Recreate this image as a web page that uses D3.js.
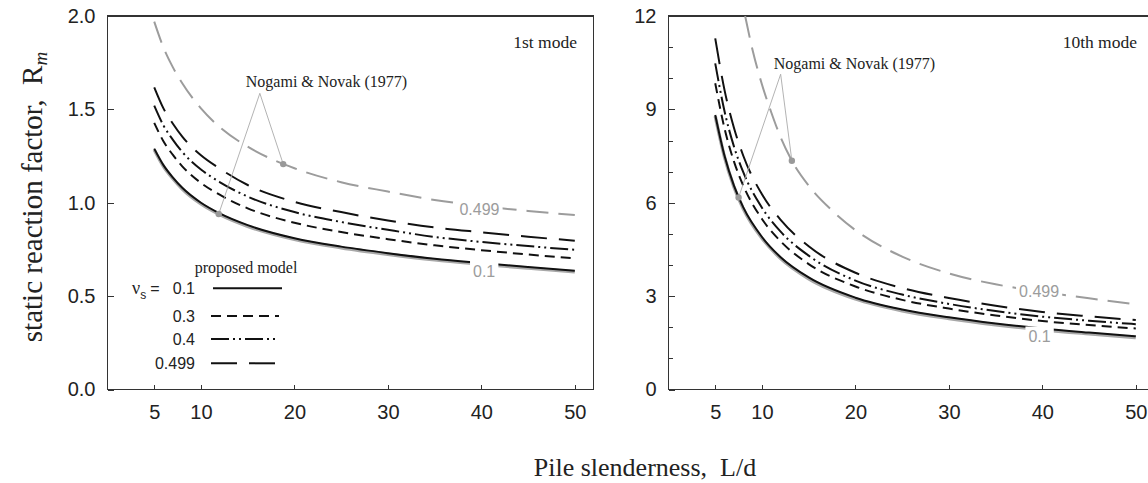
<!DOCTYPE html>
<html>
<head>
    <title>static reaction factor</title>
    <meta charset="utf-8">
    <style type="text/css">
        body { margin: 0; background: #fff; }
        .axis line { fill: none; stroke: #333; shape-rendering: crispEdges; }
        .axis path { display: none; }
        .axis text { font-family: "Liberation Sans", Arial, sans-serif; font-size: 20px; fill: #222; }
        .frame { fill: none; stroke: #333; stroke-width: 1.3; shape-rendering: crispEdges; }
        .serif { font-family: "Liberation Serif", "Times New Roman", serif; fill: #222; }
        .sans { font-family: "Liberation Sans", Arial, sans-serif; fill: #222; }
    </style>
</head>
<body>
<script src="https://cdn.jsdelivr.net/npm/d3@7"></script>
<script type="text/javascript">
    /*========= DATA =========*/
    // pile slenderness L/d
    var slenderness = [5, 6, 7, 8, 10, 12, 15, 20, 25, 30, 35, 40, 45, 50];

    // 1st mode, proposed model
    var m1Nu01   = [1.29, 1.20, 1.135, 1.08, 1.00, 0.943, 0.88, 0.81, 0.765, 0.73, 0.70, 0.677, 0.656, 0.636];
    var m1Nu03   = [1.428, 1.328, 1.256, 1.195, 1.106, 1.043, 0.970, 0.893, 0.843, 0.805, 0.772, 0.746, 0.723, 0.702];
    var m1Nu04   = [1.52, 1.413, 1.337, 1.272, 1.178, 1.111, 1.033, 0.950, 0.897, 0.855, 0.817, 0.790, 0.768, 0.748];
    var m1Nu0499 = [1.618, 1.504, 1.423, 1.354, 1.254, 1.183, 1.095, 1.005, 0.950, 0.905, 0.868, 0.842, 0.818, 0.797];
    // 1st mode, Nogami & Novak (1977)
    var m1Nogami01   = [1.284, 1.194, 1.129, 1.074, 0.994, 0.937, 0.874, 0.804, 0.759, 0.724, 0.694, 0.671, 0.650, 0.630];
    var m1Nogami0499 = [1.97, 1.83, 1.725, 1.64, 1.505, 1.405, 1.30, 1.185, 1.11, 1.06, 1.015, 0.982, 0.956, 0.934];

    // 10th mode, proposed model
    var m10Nu01   = [8.82, 7.50, 6.55, 5.85, 4.90, 4.25, 3.60, 2.95, 2.57, 2.32, 2.12, 1.96, 1.83, 1.71];
    var m10Nu03   = [9.84, 8.38, 7.33, 6.55, 5.48, 4.76, 4.03, 3.31, 2.88, 2.60, 2.38, 2.20, 2.07, 1.96];
    var m10Nu04   = [10.48, 8.93, 7.81, 6.98, 5.84, 5.07, 4.30, 3.50, 3.05, 2.75, 2.52, 2.34, 2.21, 2.10];
    var m10Nu0499 = [11.28, 9.61, 8.41, 7.51, 6.27, 5.45, 4.60, 3.75, 3.26, 2.94, 2.69, 2.49, 2.35, 2.23];
    // 10th mode, Nogami & Novak (1977)
    var m10Nogami01 = [8.78, 7.46, 6.51, 5.81, 4.86, 4.21, 3.56, 2.91, 2.53, 2.28, 2.08, 1.92, 1.79, 1.67];
    var m10Nogami0499X = [8.2, 9, 10, 11, 12, 13.2, 15, 17.5, 20, 25, 30, 35, 40, 45, 50];
    var m10Nogami0499  = [12.0, 10.9, 9.8, 8.9, 8.1, 7.35, 6.55, 5.75, 5.12, 4.27, 3.73, 3.38, 3.14, 2.93, 2.74];

    // Nogami & Novak marker points [L/d, Rm]
    var m1Markers  = [[18.8, 1.207], [11.9, 0.940]];
    var m10Markers = [[13.2, 7.35], [7.5, 6.17]];

    // ticks
    var xTicks = [5, 10, 20, 30, 40, 50];
    var m1YTicks = [0, 0.5, 1.0, 1.5, 2.0];
    var m10YTicks = [0, 3, 6, 9, 12];
    var m10YMinor = [1, 2, 4, 5, 7, 8, 10, 11];

    // legend
    var nuValues = ['0.1', '0.3', '0.4', '0.499'];

    /*========= STYLES =========*/
    var styles = {
        nu01:   { stroke: '#111', width: 2, dash: null },
        nu03:   { stroke: '#111', width: 2, dash: '10,6' },
        nu04:   { stroke: '#111', width: 2, dash: '18,4,2,4,2,4' },
        nu0499: { stroke: '#111', width: 2, dash: '26,12' },
        nog01:  { stroke: '#a8a8a8', width: 3.4, dash: null },
        nog0499:{ stroke: '#9c9c9c', width: 2, dash: '22,10' }
    };
    var grey = '#9c9c9c';

    /*========= SVG =========*/
    var svgWidth = 1148, svgHeight = 483;
    var svg = d3.select('body').append('svg')
        .attr('width', svgWidth).attr('height', svgHeight);

    var plotTop = 16, plotBottom = 389.5;

    function zip(xs, ys) {
        return xs.map(function (x, i) { return [x, ys[i]]; });
    }

    function drawPanel(opt) {
        var x = d3.scaleLinear().domain([0, 52]).range([opt.left, opt.left + 486]);
        var y = d3.scaleLinear().domain([0, opt.yMax]).range([plotBottom, plotTop]);

        var g = svg.append('g');

        g.append('clipPath').attr('id', opt.id + '-clip')
            .append('rect')
            .attr('x', x(0)).attr('y', y(opt.yMax))
            .attr('width', x(52) - x(0)).attr('height', y(0) - y(opt.yMax));

        // axes
        g.append('g').attr('class', 'axis')
            .attr('transform', 'translate(0,' + y(0) + ')')
            .call(d3.axisBottom(x).tickValues(xTicks).tickSizeInner(-5).tickSizeOuter(0).tickPadding(15));

        g.append('g').attr('class', 'axis')
            .attr('transform', 'translate(' + x(0) + ',0)')
            .call(d3.axisLeft(y).tickValues(opt.yTicks).tickSizeInner(-6).tickSizeOuter(0).tickPadding(12)
                .tickFormat(opt.yFormat));

        if (opt.yMinor) {
            g.append('g').attr('class', 'axis')
                .attr('transform', 'translate(' + x(0) + ',0)')
                .call(d3.axisLeft(y).tickValues(opt.yMinor).tickSizeInner(-4).tickSizeOuter(0).tickFormat(''));
        }

        g.append('rect').attr('class', 'frame')
            .attr('x', x(0)).attr('y', y(opt.yMax))
            .attr('width', x(52) - x(0)).attr('height', y(0) - y(opt.yMax));

        // curves
        var line = d3.line()
            .x(function (d) { return x(d[0]); })
            .y(function (d) { return y(d[1]); })
            .curve(d3.curveMonotoneX);

        var curves = g.append('g').attr('clip-path', 'url(#' + opt.id + '-clip)');
        opt.series.forEach(function (s) {
            var st = styles[s.style];
            curves.append('path')
                .datum(s.points)
                .attr('d', line)
                .attr('fill', 'none')
                .attr('stroke', st.stroke)
                .attr('stroke-width', st.width)
                .attr('stroke-dasharray', st.dash);
        });

        // curve labels with white knock-out
        opt.curveLabels.forEach(function (l) {
            var t = g.append('text').attr('class', 'sans')
                .attr('x', x(l.at[0])).attr('y', y(l.at[1]))
                .attr('dy', '0.35em')
                .attr('text-anchor', 'middle')
                .style('font-size', '16px')
                .style('fill', grey)
                .text(l.text);
            var b = t.node().getBBox();
            g.insert('rect', function () { return t.node(); })
                .attr('x', b.x - 3).attr('y', b.y - 2)
                .attr('width', b.width + 6).attr('height', b.height + 2)
                .attr('fill', '#fff');
        });

        // Nogami & Novak annotation
        var apex = opt.apex;
        g.selectAll('.leader').data(opt.markers).enter().append('line')
            .attr('x1', x(apex[0])).attr('y1', y(apex[1]))
            .attr('x2', function (d) { return x(d[0]); })
            .attr('y2', function (d) { return y(d[1]); })
            .attr('stroke', '#aaa').attr('stroke-width', 0.9);
        g.selectAll('.marker').data(opt.markers).enter().append('circle')
            .attr('cx', function (d) { return x(d[0]); })
            .attr('cy', function (d) { return y(d[1]); })
            .attr('r', 3.2).attr('fill', '#999');
        g.append('text').attr('class', 'serif')
            .attr('x', x(opt.noteAt[0])).attr('y', y(opt.noteAt[1]))
            .style('font-size', '16px')
            .text('Nogami & Novak (1977)');

        // mode title
        g.append('text').attr('class', 'serif')
            .attr('x', opt.modeX).attr('y', 48)
            .attr('text-anchor', 'end')
            .style('font-size', '17.5px')
            .text(opt.mode);

        return { x: x, y: y, g: g };
    }

    var p1 = drawPanel({
        id: 'm1', left: 107.5, yMax: 2.0, yTicks: m1YTicks, yFormat: d3.format('.1f'),
        mode: '1st mode', modeX: 577,
        series: [
            { style: 'nog01', points: zip(slenderness, m1Nogami01) },
            { style: 'nog0499', points: zip(slenderness, m1Nogami0499) },
            { style: 'nu01', points: zip(slenderness, m1Nu01) },
            { style: 'nu03', points: zip(slenderness, m1Nu03) },
            { style: 'nu04', points: zip(slenderness, m1Nu04) },
            { style: 'nu0499', points: zip(slenderness, m1Nu0499) }
        ],
        curveLabels: [
            { text: '0.499', at: [39.8, 0.965] },
            { text: '0.1', at: [40.3, 0.634] }
        ],
        markers: m1Markers, apex: [16.3, 1.586], noteAt: [14.8, 1.62]
    });

    var p10 = drawPanel({
        id: 'm10', left: 668.5, yMax: 12, yTicks: m10YTicks, yMinor: m10YMinor, yFormat: d3.format('d'),
        mode: '10th mode', modeX: 1137,
        series: [
            { style: 'nog01', points: zip(slenderness, m10Nogami01) },
            { style: 'nog0499', points: zip(m10Nogami0499X, m10Nogami0499) },
            { style: 'nu01', points: zip(slenderness, m10Nu01) },
            { style: 'nu03', points: zip(slenderness, m10Nu03) },
            { style: 'nu04', points: zip(slenderness, m10Nu04) },
            { style: 'nu0499', points: zip(slenderness, m10Nu0499) }
        ],
        curveLabels: [
            { text: '0.499', at: [39.65, 3.16] },
            { text: '0.1', at: [39.7, 1.69] }
        ],
        markers: m10Markers, apex: [12.0, 10.13], noteAt: [11.26, 10.3]
    });

    // legend (1st mode panel)
    var legend = svg.append('g');
    legend.append('text').attr('class', 'serif')
        .attr('x', 246).attr('y', 273).attr('text-anchor', 'middle')
        .style('font-size', '16px').text('proposed model');

    var nuLabel = legend.append('text').attr('x', 132).attr('y', 294);
    nuLabel.append('tspan').attr('class', 'serif').style('font-size', '18px').text('ν');
    nuLabel.append('tspan').attr('class', 'sans').attr('dy', 5).style('font-size', '12px').text('s');
    nuLabel.append('tspan').attr('class', 'sans').attr('dy', -5).attr('dx', 4).style('font-size', '16px').text('=');

    var legendRows = legend.selectAll('.row').data(nuValues).enter().append('g')
        .attr('transform', function (d, i) { return 'translate(0,' + [288.3, 316, 339, 363.3][i] + ')'; });
    legendRows.append('text').attr('class', 'sans')
        .attr('x', 195).attr('dy', '0.35em').attr('text-anchor', 'end')
        .style('font-size', '16px')
        .text(function (d) { return d; });
    legendRows.append('line')
        .attr('x1', function (d, i) { return i === 0 ? 213 : 211; })
        .attr('x2', function (d, i) { return i === 0 ? 282 : 279; })
        .attr('stroke', '#111').attr('stroke-width', 2)
        .attr('stroke-dasharray', function (d, i) { return styles[['nu01', 'nu03', 'nu04', 'nu0499'][i]].dash; });

    // axis titles
    var yTitle = svg.append('text').attr('class', 'serif')
        .attr('transform', 'translate(42,197) rotate(-90)')
        .attr('text-anchor', 'middle')
        .style('font-size', '29px');
    yTitle.append('tspan').text('static reaction factor,\u00a0\u00a0R');
    yTitle.append('tspan').attr('dy', 5).style('font-size', '19px').style('font-style', 'italic').text('m');

    svg.append('text').attr('class', 'serif')
        .attr('x', 645).attr('y', 476).attr('text-anchor', 'middle')
        .style('font-size', '26px')
        .text('Pile slenderness,\u00a0\u00a0L/d');
</script>
</body>
</html>
